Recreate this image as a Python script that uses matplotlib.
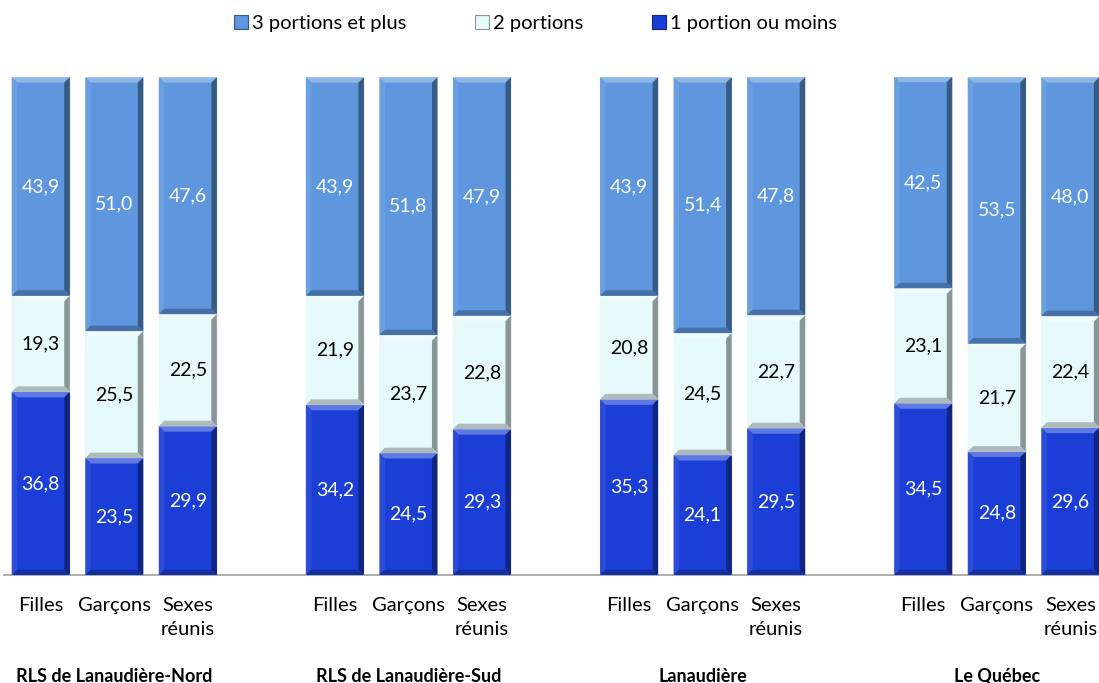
import numpy as np
import matplotlib
matplotlib.use("Agg")
import matplotlib.pyplot as plt
from matplotlib.patches import Polygon, Patch
from matplotlib.transforms import blended_transform_factory
from matplotlib.colors import to_rgb

plt.rcParams['font.family'] = ['Lato', 'DejaVu Sans']

# Régions et catégories
regions = ["RLS de Lanaudière-Nord", "RLS de Lanaudière-Sud", "Lanaudière", "Le Québec"]
sexes = ["Filles", "Garçons", "Sexes\nréunis"]
series = ["3 portions et plus", "2 portions", "1 portion ou moins"]

# % par région : [Filles, Garçons, Sexes réunis]
un_ou_moins = [[36.8, 23.5, 29.9], [34.2, 24.5, 29.3], [35.3, 24.1, 29.5], [34.5, 24.8, 29.6]]
deux = [[19.3, 25.5, 22.5], [21.9, 23.7, 22.8], [20.8, 24.5, 22.7], [23.1, 21.7, 22.4]]
trois_plus = [[43.9, 51.0, 47.6], [43.9, 51.8, 47.9], [43.9, 51.4, 47.8], [42.5, 53.5, 48.0]]

c_bas = "#1b3ed6"
c_mil = "#e6f9fc"
c_haut = "#5e97dd"
txt_col = {c_bas: "white", c_mil: "black", c_haut: "white"}


def shade(col, f):
    r, g, b = to_rgb(col)
    if f > 0:
        return (r + (1 - r) * f, g + (1 - g) * f, b + (1 - b) * f)
    return (r * (1 + f), g * (1 + f), b * (1 + f))


def bevel(ax, x0, y0, w, h, col, bx=0.075, by=1.1):
    """relief sur un segment de barre"""
    x1, y1 = x0 + w, y0 + h
    faces = [
        ([(x0, y1), (x1, y1), (x1 - bx, y1 - by), (x0 + bx, y1 - by)], 0.3),
        ([(x0, y0), (x0, y1), (x0 + bx, y1 - by), (x0 + bx, y0 + by)], 0.08),
        ([(x1, y0), (x1, y1), (x1 - bx, y1 - by), (x1 - bx, y0 + by)], -0.4),
        ([(x0, y0), (x1, y0), (x1 - bx, y0 + by), (x0 + bx, y0 + by)], -0.25),
    ]
    for pts, f in faces:
        ax.add_patch(Polygon(pts, closed=True, facecolor=shade(col, f),
                             edgecolor="none", zorder=3))


fig = plt.figure(figsize=(10.99, 6.83), dpi=100)
ax = fig.add_axes([0.0036, 0.158, 0.9964, 0.729])

width = 0.79
pos = []
for g in range(len(regions)):
    for s in range(len(sexes)):
        pos.append(g * 4 + s)
pos = np.array(pos)

bas = np.array(un_ou_moins).ravel()
mil = np.array(deux).ravel()
haut = np.array(trois_plus).ravel()

for vals, start, col in [(bas, np.zeros_like(bas), c_bas),
                         (mil, bas, c_mil),
                         (haut, bas + mil, c_haut)]:
    bars = ax.bar(pos, vals, width, bottom=start, color=col,
                  edgecolor="#f4f4f4", linewidth=0.8, zorder=2)
    for b, v in zip(bars, vals):
        bevel(ax, b.get_x(), b.get_y(), b.get_width(), b.get_height(), col)
        ax.text(b.get_x() + b.get_width() / 2, b.get_y() + b.get_height() / 2,
                f"{v:.1f}".replace(".", ","), ha="center", va="center",
                fontsize=14, color=txt_col[col], zorder=4)

ax.set_xlim(-0.5, 14.39)
ax.set_ylim(0, 100)
for sp in ["top", "right", "left"]:
    ax.spines[sp].set_visible(False)
ax.spines["bottom"].set_color("#a0a0a0")
ax.spines["bottom"].set_linewidth(1.2)
ax.set_yticks([])
ax.set_xticks(pos)
ax.set_xticklabels(sexes * len(regions), fontsize=14.5, va="top",
                   multialignment="center", linespacing=1.45)
ax.tick_params(axis="x", length=0, pad=16)

trans = blended_transform_factory(ax.transData, ax.transAxes)
for g, name in enumerate(regions):
    ax.text(g * 4 + 1, -0.203, name, transform=trans, ha="center", va="center",
            fontsize=13, fontweight="bold")

handles = [Patch(facecolor=c, edgecolor=shade(c, -0.4), linewidth=0.8)
           for c in [c_haut, c_mil, c_bas]]
fig.legend(handles, series, loc="upper center", bbox_to_anchor=(0.487, 1.005),
           ncol=3, frameon=False, fontsize=14.5, handlelength=0.7,
           handleheight=0.7, handletextpad=0.2, columnspacing=3.4)

fig.savefig("out.png", dpi=100)
